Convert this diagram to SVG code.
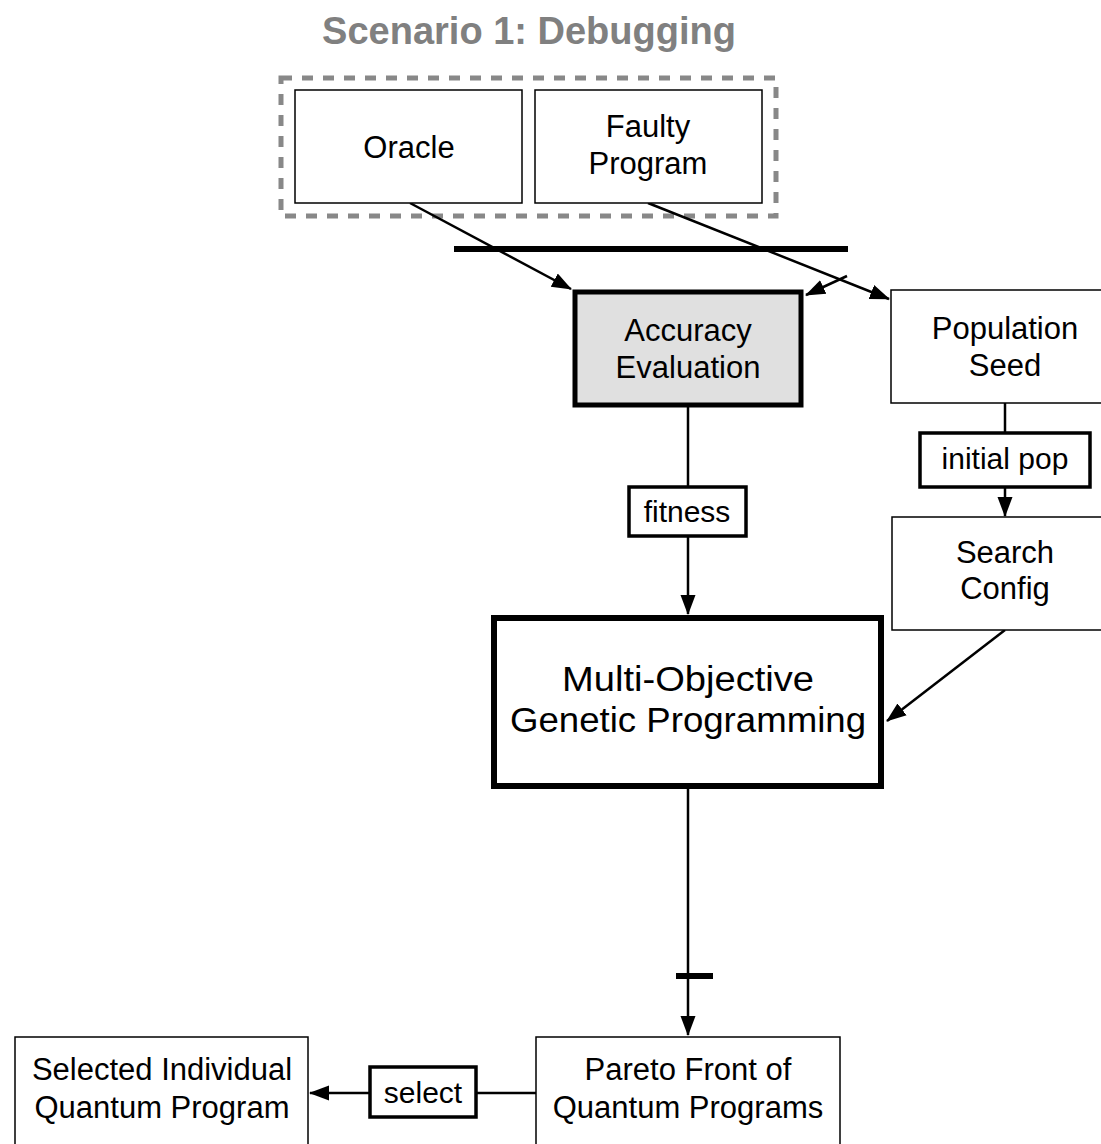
<svg xmlns="http://www.w3.org/2000/svg" width="1101" height="1144" viewBox="0 0 1101 1144">
  <defs>
    <marker id="arrowL" markerWidth="20" markerHeight="20" refX="19" refY="10" orient="auto" markerUnits="userSpaceOnUse" viewBox="0 0 20 20">
      <path d="M0,2.5 L20,10 L0,17.5 z" fill="#000"/>
    </marker>
  </defs>
  <style>
    text { font-family: "Liberation Sans", Arial, sans-serif; fill: #000; text-anchor: middle; }
    .title { font-size: 38px; font-weight: bold; fill: #808080; }
    .lbl { font-size: 31px; }
    .big { font-size: 35px; }
    .edge { font-size: 30px; }
    .box { fill: #fff; stroke: #000; stroke-width: 1.5; }
    .ebox { fill: #fff; stroke: #000; stroke-width: 3.5; }
    .conn { stroke: #000; stroke-width: 2.5; fill: none; }
  </style>
  <rect width="1101" height="1144" fill="#fff"/>

  <text class="title" x="529" y="44">Scenario 1:  Debugging</text>

  <!-- input group -->
  <rect id="inputs" x="281" y="78" width="495" height="138" fill="none" stroke="#888" stroke-width="5" stroke-dasharray="11,10"/>

  <g id="connectors">
    <line x1="454" y1="249" x2="848" y2="249" stroke="#000" stroke-width="6"/>
    <line class="conn" x1="410" y1="203" x2="571" y2="289" marker-end="url(#arrowL)"/>
    <line class="conn" x1="648" y1="203" x2="889" y2="299" marker-end="url(#arrowL)"/>
    <line class="conn" x1="847" y1="276" x2="806" y2="295" marker-end="url(#arrowL)"/>
    <line class="conn" x1="688" y1="407" x2="688" y2="487"/>
    <line class="conn" x1="688" y1="537" x2="688" y2="614" marker-end="url(#arrowL)"/>
    <line class="conn" x1="1005" y1="403" x2="1005" y2="432"/>
    <line class="conn" x1="1005" y1="488" x2="1005" y2="516" marker-end="url(#arrowL)"/>
    <line class="conn" x1="1005" y1="630" x2="887" y2="721" marker-end="url(#arrowL)"/>
    <line class="conn" x1="688" y1="788" x2="688" y2="1035" marker-end="url(#arrowL)"/>
    <line x1="676" y1="976" x2="713" y2="976" stroke="#000" stroke-width="6"/>
    <line class="conn" x1="537" y1="1093" x2="476" y2="1093"/>
    <line class="conn" x1="370" y1="1093" x2="310" y2="1093" marker-end="url(#arrowL)"/>
  </g>

  <g id="oracle">
    <rect class="box" x="295" y="90" width="227" height="113"/>
    <text class="lbl" x="409" y="158">Oracle</text>
  </g>
  <g id="faulty-program">
    <rect class="box" x="535" y="90" width="227" height="113"/>
    <text class="lbl" x="648" y="137">Faulty</text>
    <text class="lbl" x="648" y="174">Program</text>
  </g>
  <g id="accuracy-evaluation">
    <rect x="575" y="292" width="226" height="113" fill="#e0e0e0" stroke="#000" stroke-width="5"/>
    <text class="lbl" x="688" y="341">Accuracy</text>
    <text class="lbl" x="688" y="378">Evaluation</text>
  </g>
  <g id="population-seed">
    <rect class="box" x="891" y="290" width="215" height="113"/>
    <text class="lbl" x="1005" y="339">Population</text>
    <text class="lbl" x="1005" y="376">Seed</text>
  </g>
  <g id="initial-pop">
    <rect class="ebox" x="920" y="433" width="170" height="54"/>
    <text class="edge" x="1005" y="469">initial pop</text>
  </g>
  <g id="search-config">
    <rect class="box" x="892" y="517" width="214" height="113"/>
    <text class="lbl" x="1005" y="563">Search</text>
    <text class="lbl" x="1005" y="599">Config</text>
  </g>
  <g id="fitness">
    <rect class="ebox" x="629" y="487" width="117" height="49"/>
    <text class="edge" x="687" y="522">fitness</text>
  </g>
  <g id="mogp">
    <rect x="494" y="618" width="387" height="168" fill="#fff" stroke="#000" stroke-width="6"/>
    <text class="big" x="688" y="691" textLength="252" lengthAdjust="spacingAndGlyphs">Multi-Objective</text>
    <text class="big" x="688" y="732" textLength="356" lengthAdjust="spacingAndGlyphs">Genetic Programming</text>
  </g>
  <g id="pareto-front">
    <rect class="box" x="536" y="1037" width="304" height="120"/>
    <text class="lbl" x="688" y="1080">Pareto Front of</text>
    <text class="lbl" x="688" y="1118">Quantum Programs</text>
  </g>
  <g id="select">
    <rect class="ebox" x="370" y="1067" width="106" height="50"/>
    <text class="edge" x="423" y="1103">select</text>
  </g>
  <g id="selected-individual">
    <rect class="box" x="15" y="1037" width="293" height="120"/>
    <text class="lbl" x="162" y="1080">Selected Individual</text>
    <text class="lbl" x="162" y="1118">Quantum Program</text>
  </g>
</svg>
